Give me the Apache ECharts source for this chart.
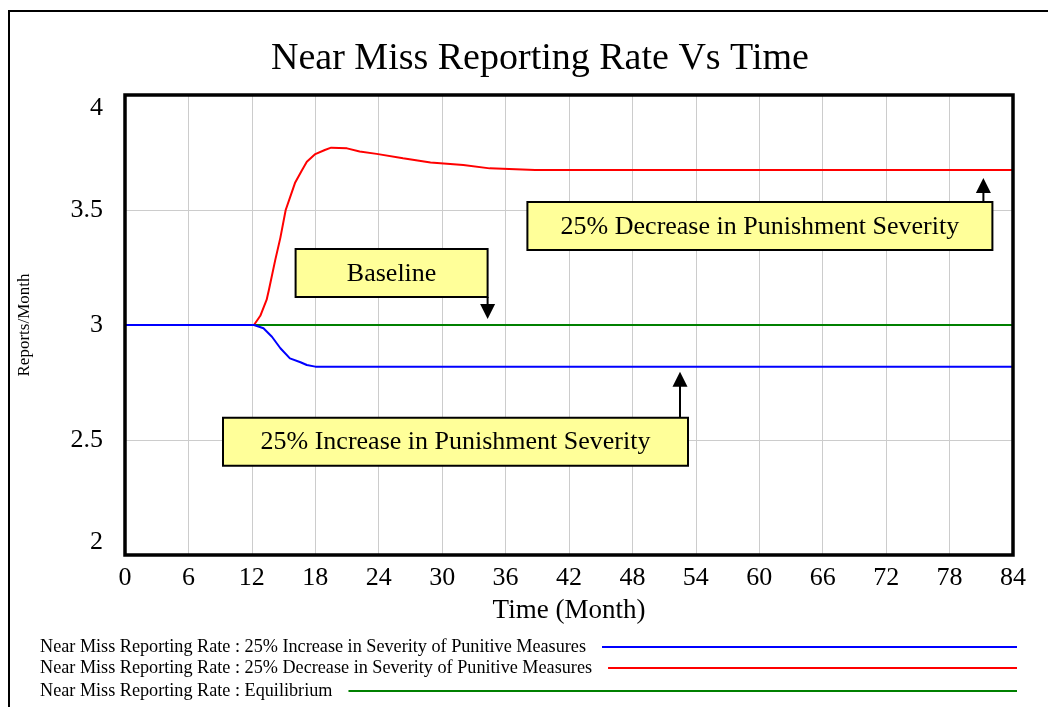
<!DOCTYPE html>
<html>
<head>
<meta charset="utf-8">
<title>Near Miss Reporting Rate Vs Time</title>
<script src="https://cdn.jsdelivr.net/npm/echarts@6/dist/echarts.min.js"></script>
<style>
  html, body { margin: 0; padding: 0; background: #ffffff; }
  #chart { width: 1048px; height: 707px; }
</style>
</head>
<body>
<div id="chart"></div>
<script>
// Simulated near-miss reporting rate (reports/month) over 84 months.
const seriesNames = [
  'Near Miss Reporting Rate : 25% Increase in Severity of Punitive Measures',
  'Near Miss Reporting Rate : 25% Decrease in Severity of Punitive Measures',
  'Near Miss Reporting Rate : Equilibrium'
];

// [month, reports/month]
const increaseSeverity = [
  [0, 3], [12.2, 3], [13.1, 2.986], [13.9, 2.949], [14.7, 2.899], [15.6, 2.855],
  [16.6, 2.838], [17.2, 2.826], [18, 2.819], [84, 2.819]
];
const decreaseSeverity = [
  [0, 3], [12.2, 3], [12.8, 3.04], [13.4, 3.11], [13.6, 3.15], [14.2, 3.28],
  [14.7, 3.38], [15.2, 3.5], [15.8, 3.58], [16.1, 3.62], [16.7, 3.67], [17.2, 3.71],
  [18, 3.743], [18.9, 3.761], [19.5, 3.771], [21, 3.768], [22.2, 3.754], [23.8, 3.744],
  [26.3, 3.725], [28.9, 3.707], [32, 3.696], [34.5, 3.681], [38.8, 3.674], [84, 3.674]
];
const equilibrium = [[0, 3], [84, 3]];

const seriesColors = ['#0000ff', '#ff0000', '#008000'];

const titleText = 'Near Miss Reporting Rate Vs Time';
const xAxisTitle = 'Time (Month)';
const yAxisTitle = 'Reports/Month';

// Axis ranges
const timeRange = [0, 84];
const rateRange = [2, 4];

// Callout labels and the month on each curve that their arrow points at
const calloutTexts = [
  '25% Decrease in Punishment Severity',
  'Baseline',
  '25% Increase in Punishment Severity'
];
const calloutMonths = [81.2, 34.3, 52.5];

const SERIF = '"Liberation Serif", "Times New Roman", serif';

const chart = echarts.init(document.getElementById('chart'), null, { renderer: 'canvas' });

chart.setOption({
  animation: false,
  backgroundColor: '#ffffff',
  title: {
    text: titleText,
    left: 535,
    top: 35,
    textAlign: 'center',
    textStyle: { fontFamily: SERIF, fontSize: 38, fontWeight: 'normal', color: '#000' }
  },
  grid: {
    left: 125, right: 35, top: 95, bottom: 152,
    show: false
  },
  xAxis: {
    type: 'value',
    min: timeRange[0], max: timeRange[1], interval: 6,
    name: xAxisTitle,
    nameLocation: 'middle',
    nameGap: 42,
    nameTextStyle: { fontFamily: SERIF, fontSize: 27, color: '#000' },
    axisLine: { show: false },
    axisTick: { show: false },
    axisLabel: { fontFamily: SERIF, fontSize: 26, color: '#000', margin: 10 },
    splitLine: { show: true, lineStyle: { color: '#cccccc', width: 1 } }
  },
  yAxis: {
    type: 'value',
    min: rateRange[0], max: rateRange[1], interval: 0.5,
    name: yAxisTitle,
    nameLocation: 'middle',
    nameGap: 92,
    nameRotate: 90,
    nameTextStyle: { fontFamily: SERIF, fontSize: 17, color: '#000' },
    axisLine: { show: false },
    axisTick: { show: false },
    axisLabel: {
      fontFamily: SERIF, fontSize: 26, color: '#000', margin: 22,
      verticalAlignMinLabel: 'bottom',
      verticalAlignMaxLabel: 'top'
    },
    splitLine: { show: true, lineStyle: { color: '#cccccc', width: 1 } }
  },
  series: [
    {
      name: seriesNames[2], type: 'line', data: equilibrium, z: 2,
      showSymbol: false, lineStyle: { color: seriesColors[2], width: 2 }
    },
    {
      name: seriesNames[1], type: 'line', data: decreaseSeverity, z: 3,
      showSymbol: false, lineStyle: { color: seriesColors[1], width: 2 }
    },
    {
      name: seriesNames[0], type: 'line', data: increaseSeverity, z: 4,
      showSymbol: false, lineStyle: { color: seriesColors[0], width: 2 }
    }
  ]
});

// Value of a piecewise-linear curve at a given month
function valueAt(curve, t) {
  for (let i = 1; i < curve.length; i++) {
    if (t <= curve[i][0]) {
      const [t0, v0] = curve[i - 1], [t1, v1] = curve[i];
      return v0 + (v1 - v0) * (t - t0) / (t1 - t0);
    }
  }
  return curve[curve.length - 1][1];
}

const measureCtx = document.createElement('canvas').getContext('2d');
function textWidth(str, size) {
  measureCtx.font = size + 'px ' + SERIF;
  return measureCtx.measureText(str).width;
}

function arrowHead(x, y, dir) {
  // dir = -1: pointing up, +1: pointing down; (x, y) is the tip
  return {
    type: 'polygon',
    shape: { points: [[x, y], [x - 7.5, y - dir * 15], [x + 7.5, y - dir * 15]] },
    style: { fill: '#000' },
    z: 20
  };
}

function callout(text, tip, box, arrowX, dir, boxEdgeY) {
  return [
    {
      type: 'line',
      shape: { x1: arrowX, y1: boxEdgeY, x2: arrowX, y2: tip[1] - dir * 10 },
      style: { stroke: '#000', lineWidth: 2 },
      z: 20
    },
    arrowHead(arrowX, tip[1], dir),
    {
      type: 'rect',
      shape: { x: box[0], y: box[1], width: box[2], height: box[3] },
      style: { fill: '#ffff99', stroke: '#000', lineWidth: 2 },
      z: 21
    },
    {
      type: 'text',
      x: box[0] + box[2] / 2,
      y: box[1] + box[3] / 2 + 1,
      style: {
        text: text, fontFamily: SERIF, fontSize: 26, fill: '#000',
        align: 'center', verticalAlign: 'middle'
      },
      z: 22
    }
  ];
}

const elements = [];

// Page frame
elements.push({
  type: 'polyline',
  shape: { points: [[9, 707], [9, 11], [1048, 11]] },
  style: { stroke: '#000', lineWidth: 2, fill: null },
  z: 10
});

// Heavy frame around the plotting area, drawn over the grid lines
const plotTL = chart.convertToPixel({ gridIndex: 0 }, [timeRange[0], rateRange[1]]);
const plotBR = chart.convertToPixel({ gridIndex: 0 }, [timeRange[1], rateRange[0]]);
elements.push({
  type: 'rect',
  shape: { x: plotTL[0], y: plotTL[1], width: plotBR[0] - plotTL[0], height: plotBR[1] - plotTL[1] },
  style: { fill: null, stroke: '#000', lineWidth: 3.5 },
  z: 15
});

// Callouts anchored on the curves
const pDec = chart.convertToPixel({ gridIndex: 0 }, [calloutMonths[0], valueAt(decreaseSeverity, calloutMonths[0])]);
const tipDec = [pDec[0], pDec[1] + 8];
elements.push(...callout(calloutTexts[0], tipDec,
  [tipDec[0] - 456, tipDec[1] + 24, 465, 48], tipDec[0], -1, tipDec[1] + 24));

const pBase = chart.convertToPixel({ gridIndex: 0 }, [calloutMonths[1], valueAt(equilibrium, calloutMonths[1])]);
const tipBase = [pBase[0], pBase[1] - 6];
elements.push(...callout(calloutTexts[1], tipBase,
  [tipBase[0] - 192, tipBase[1] - 70, 192, 48], tipBase[0], 1, tipBase[1] - 22));

const pInc = chart.convertToPixel({ gridIndex: 0 }, [calloutMonths[2], valueAt(increaseSeverity, calloutMonths[2])]);
const tipInc = [pInc[0], pInc[1] + 5];
elements.push(...callout(calloutTexts[2], tipInc,
  [tipInc[0] - 457, tipInc[1] + 46, 465, 48], tipInc[0], -1, tipInc[1] + 46));

// Legend: name, then a line in the series colour running to the right edge of the plot
const legendRows = [647, 668, 691];
const legendRight = 1017;
seriesNames.forEach(function (name, i) {
  const y = legendRows[i];
  const w = textWidth(name, 18.2);
  elements.push({
    type: 'text', x: 40, y: y,
    style: { text: name, fontFamily: SERIF, fontSize: 18.2, fill: '#000', align: 'left', verticalAlign: 'middle' },
    z: 10
  });
  elements.push({
    type: 'line',
    shape: { x1: 40 + w + 16, y1: y, x2: legendRight, y2: y },
    style: { stroke: seriesColors[i], lineWidth: 2 },
    z: 10
  });
});

chart.setOption({ graphic: { elements: elements } });
</script>
</body>
</html>
